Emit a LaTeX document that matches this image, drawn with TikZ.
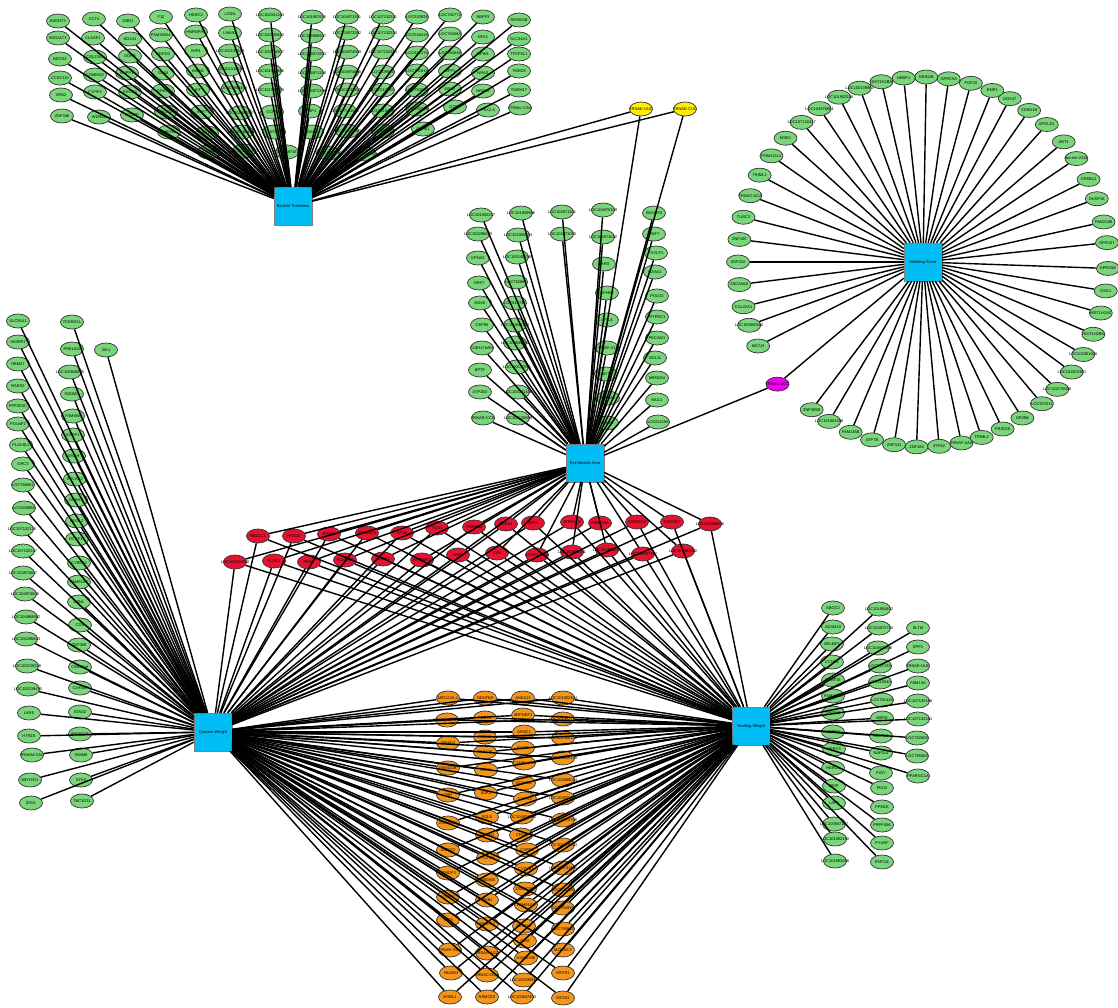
\documentclass[tikz,border=0pt]{standalone}
\usepackage{fontspec}
\setmainfont{Liberation Sans}
\usetikzlibrary{shapes.geometric,calc}
\definecolor{genegreen}{RGB}{122,214,122}
\definecolor{traitcyan}{RGB}{0,190,245}
\definecolor{sharedred}{RGB}{230,18,48}
\definecolor{sharedorange}{RGB}{245,150,25}
\definecolor{sharedyellow}{RGB}{255,238,0}
\definecolor{sharedmagenta}{RGB}{238,0,238}
\tikzset{
  gene/.style={ellipse, draw=black!80, line width=0.7pt, fill=genegreen,
    minimum width=23pt, minimum height=14pt, inner sep=0pt,
    font=\fontsize{4}{4}\selectfont},
  trait/.style={rectangle, draw=black!50, line width=0.4pt, fill=traitcyan,
    minimum size=38pt, inner sep=0pt, font=\fontsize{4}{4}\selectfont},
  link/.style={line width=1.4pt, black},
}
\newcommand{\lbl}[1]{\makebox[0pt]{#1}}
% gene lists: x/y/name (pixels, y down)
\newcommand{\bflist}{58/21/B3GNT2, 58/38/B4GALT3, 60/59/BECN2, 60/78/CCDC110, 61/95/XRN2, 62/116/ZNF346,
  94/19/CCT4, 93/38/CLASP1, 95/57/COL23A1, 95/75/COMMD2, 95/92/CYFIP1, 99/117/WDR66,
  128/21/DBN1, 130/39/DDX41, 130/56/DGKB, 127/73/ENPP1, 130/92/EXOC4, 132/115/FCGBP,
  161/17/F12, 161/35/FAM160A1, 163/54/GDPD4, 163/73/GJA8, 163/91/GRID1, 166/112/HCN1, 169/132/HEXA,
  196/15/HERC2, 196/32/HNRNPH1, 196/51/IMP4, 198/71/INSM1, 198/90/KIT, 202/112/KLF7, 207/133/KRT8, 209/152/LCOR,
  230/14/LGSN, 230/33/LMAN2, 230/51/LOC100139649, 230/69/LOC101010186, 233/88/LOC101903458, 240/113/LOC101904017, 242/132/LOC101904388, 244/151/LOC101905270,
  270/15/LOC100301163, 270/35/LOC100335882, 270/52/LOC100336907, 270/71/LOC101902886, 270/90/LOC101903075, 272/112/OCRL, 274/132/HYDIN, 287/152/LOC104971672,
  312/17/LOC101907876, 312/36/LOC104968937, 312/54/LOC104971933, 312/73/LOC104971158, 312/91/LOC104971398, 310/111/WWP1, 312/132/SMIM5,
  347/17/LOC104971391, 347/33/LOC104973282, 347/52/LOC104974569, 347/72/LOC104974858, 347/90/LOC107131305, 345/111/LOC107131862, 347/131/LOC107131907, 328/153/LOC107132010,
  383/17/LOC107132331, 383/33/LOC107132330, 383/52/LOC107132315, 383/72/LOC509916, 383/90/LOC512893, 383/111/LOC515418, 383/131/LOC520336, 365/154/LOC524236,
  417/17/LOC533928, 417/35/LOC540419, 417/53/LOC614176, 417/71/LOC781919, 417/90/LOC782085, 417/109/LOC782364, 423/129/GPR61,
  450/15/LOC782772, 450/34/LOC784564, 450/53/LOC784646, 450/71/MPP1, 450/89/MSX2, 455/107/OTOF,
  483/17/NBPF3, 483/37/NFX1, 483/54/NPW1, 483/73/NRAS, 483/91/NR2C2, 488/110/PKX2-4,
  519/20/RMND5B, 519/39/SLC34A1, 519/54/TFCP2L1, 519/71/TMED5, 519/90/TMEM17, 520/108/TRNAL-CAA}
\newcommand{\emlist}{481/215/LOC101902237, 478/234/LOC100296423, 478/258/KPNA2, 479/283/GRK7, 480/303/DDX6, 482/325/CEP95, 482/348/C19H17orf58, 480/370/BPTF, 480/392/ATP1B3, 483/418/TRNAR-CCG,
  521/213/LOC101905966, 518/235/LOC101905874, 517/257/LOC100140838, 516/282/LOC782861, 515/303/LOC616741, 515/325/LOC100848153, 515/343/LOC100849170, 517/367/LOC100137931, 518/392/LOC100131346, 518/418/LOC100125889,
  562/212/LOC104971101, 562/234/LOC104971030,
  603/210/LOC104975109, 603/237/LOC104971032, 604/264/RXRG, 607/293/SPHK2, 607/320/SPILA, 607/348/SNAP-A1, 606/374/SIDT1, 608/398/SHISA9, 607/423/SENP5,
  654/213/SMURF2, 654/234/RNF7, 656/253/PXYLP1, 655/272/RASA2, 657/296/POLG2, 657/317/PITPNC1, 657/338/PECAM1, 655/358/NOL11, 657/378/MIR3064, 657/400/MUL1, 658/422/LOC511106}
\newcommand{\mslist}{271/GRIN2B, 264/HEBP1, 257/HIST1H2BN, 250/LOC100139563, 243/LOC101902328, 236/LOC104976654, 229/LOC107132417, 222/MSR1, 215/POM121L2, 208/TRIML1, 201/TRNAC-ACA, 194/TUSC3, 187/ZNF165, 180/ZNF322, 173/ZSCAN16, 166/COL22A1, 160/LOC100850500, 153/MICU3,
  127/ZNF385B, 120.5/LOC101903456, 113/FAM135B, 106/ATP7B, 99/ZNF341, 92/ZNF184, 85/ZFP42, 78/TRNAF-AAA, 71.5/TRIML2, 64.5/PRSS16, 57.5/OR2B6, 50/LOC507011, 43.5/LOC102176088, 36.5/LOC101903380, 30/LOC101901826,
  23/HIST1H2BK, 16/HIST1H2AC, 9/GSG1, 2/GPRC5B, 354/GPR137, 347.5/FAM234B, 340/DUSP16, 333.5/CREBL2, 326/bta-mir-2318, 319.5/ABT1, 312/APOLD1, 305/CDKN1B, 298/DDX47, 292/EMP1, 285/FGF20, 278/GPRC5A}
\newcommand{\rdlist}{258/536/RB1CC1, 294/536/RGS20, 329/534/RPS20, 367/533/SDR16C5, 402/533/ST18, 437/528/TGS1, 474/527/TMEM68, 506/524/TCEA1, 533/523/XKR4, 572/522/ATP6V1H, 600/523/FAM150A, 637/522/SDR16C6, 672/522/CHCHD7, 710/524/LOC101908206,
  235/562/LOC100140450, 274/561/PLAG1, 309/562/PENK, 345/560/PCMTD1, 383/559/OPRK1, 422/560/NPBWR1, 458/555/MOS, 497/553/LYN, 537/555/LOC514048, 572/552/LOC104974181, 607/550/LOC104974257, 643/554/LOC101907707, 683/551/LOC101908392}
\newcommand{\orlist}{448/698/MIR124A-1, 447/720/LOC101907919, 448/743/IMPAD1, 448/768/FAM110B, 448/795/CRH, 448/823/ZSCAN5B, 448/850/ZNF572, 448/873/YTHDF3, 448/897/VCPIP1, 448/920/TTPA, 450/950/TRNAY-GUA, 451/973/NKAIN3, 450/997/MYBL1,
  485/698/NDUFB9, 485/718/PDE7A, 485/737/PREX2, 485/752/RNF139, 486/770/RRS1, 486/793/SGK3, 487/817/SQLE, 487/835/TATDN1, 488/858/TCF24, 487/880/TMEM65, 487/900/TRIB1, 487/924/TRMT12, 487/953/TRNAA-AGC, 487/975/TRNAC-GCA, 487/997/NSMCE2,
  523/698/ANXA13, 523/715/ARFGEF1, 524/732/ARMC1, 523/748/ASAP1, 524/763/C14H8orf34, 524/783/ADHFE1, 525/799/COPS5, 522/817/LOC104974806, 521/835/CPA6, 527/850/CSPP1, 526/869/CYP7B1, 525/889/DNAJC5B, 526/905/FAM91A1, 524/926/FER1L6, 525/941/GGH, 526/958/KIAA0196, 524/980/LOC100295816, 522/997/LOC100847403,
  563/698/LOC101902404, 563/719/LOC101902714, 563/738/LOC101906152, 563/758/LOC101909138, 563/780/LOC104969024, 563/798/LOC104972478, 563/820/LOC104975766, 563/845/LOC104976213, 563/868/LOC107131475, 563/890/LOC520336, 563/908/LOC784935, 563/929/LOC790616, 563/950/MCMDC2, 563/973/MTFR1, 563/998/MTSS1}
\newcommand{\cwlist}{18/321/SLC35A1, 18/342/SH3RF2, 18/364/RBM27, 18/386/RARS2, 18/406/PPP2R2C, 18/424/POU4F2, 21/445/PLAC8L1, 23/464/ORC3, 23/485/LOC786861, 24/508/LOC506988, 22/529/LOC107132176, 23/551/LOC107132247,
  23/573/LOC104974807, 25/594/LOC104974636, 26/617/LOC104968982, 26/639/LOC100296843, 27/666/LOC100139228, 28/689/LOC100139430, 29/713/LARS, 29/736/HTR1E, 32/755/TRNAM-CAU, 30/780/WDYHV1, 31/803/ZHX1,
  72/322/TCERG1L, 72/349/PRELID2, 70/372/LOC100848815, 72/394/GSDMC, 73/416/FAM89A, 73/435/ESRP1, 74/456/ENAH, 75/479/EFCAB2, 76/500/DNAH7, 77/521/DIS3L2, 77/539/DCAF17, 79/563/CYB5D2,
  79/582/FAM91A2, 79/602/DBNL, 80/625/CGA, 79/645/CEP350, 80/667/C5H12orf, 80/688/C1H5orf, 80/712/ATAD2, 80/734/ANKRD46, 81/755/SMIM8, 81/780/STK3, 82/801/TBC1D31,
  106/350/ZIK1}
\newcommand{\ywlist}{833/608/ABCG2, 833/627/ADAM10, 832/644/ARL6IP1, 832/662/CCNB2, 833/680/DCAF16, 833/696/FAM184B, 833/713/GPRIN3, 833/732/HERC3, 834/749/HERC5, 833/768/HERC6, 834/786/IBSP, 834/803/LAP3, 834/824/LOC100847142, 835/839/LOC101902190, 835/861/LOC101903088,
  879/609/LOC101904402, 879/628/LOC104972724, 878/648/LOC104972926, 880/666/LOC507133, 880/682/LOC515540, 882/700/LOC781428, 882/718/MEPE, 881/736/MMRN1, 881/753/NAP1L5, 881/773/PIGY, 882/788/PKD2, 882/807/PPM1K, 882/825/PRPF40A, 882/843/PYURF, 882/862/RNF111,
  918/628/SLTM, 918/647/SPP1, 918/666/TRNAE-UUC, 918/683/FAM13A, 918/701/LOC107132188, 918/719/LOC107132164, 917/738/LOC782693, 917/756/LOC785569, 918/776/PPARGC1A}

\begin{document}
\begin{tikzpicture}[x=1pt,y=-1pt]
  \useasboundingbox (0,0) rectangle (1118,1008);
  %Traits
  \node[trait] (bt) at (293,206) {\lbl{Backfat Thickness}};
  \node[trait] (ms) at (923,262) {\lbl{Marbling Score}};
  \node[trait] (em) at (585,463) {\lbl{Eye Muscle Area}};
  \node[trait] (cw) at (213,732) {\lbl{Carcass Weight}};
  \node[trait] (yw) at (751,726) {\lbl{Yearling Weight}};
  %Genes of one trait
  \foreach \x/\y/\t [count=\i] in \bflist
    \node[gene] (b\i) at (\x,\y) {\lbl{\t}};
  \foreach \x/\y/\t [count=\i] in \emlist
    \node[gene] (e\i) at (\x,\y) {\lbl{\t}};
  \foreach \a/\t [count=\i] in \mslist
    \node[gene] (m\i) at ($(ms)+(\a:185)$) {\lbl{\t}};
  \foreach \x/\y/\t [count=\i] in \cwlist
    \node[gene] (c\i) at (\x,\y) {\lbl{\t}};
  \foreach \x/\y/\t [count=\i] in \ywlist
    \node[gene] (y\i) at (\x,\y) {\lbl{\t}};
  %Shared genes
  \node[gene,fill=sharedyellow] (uuc) at (641,109) {\lbl{TRNAE-UUC}};
  \node[gene,fill=sharedyellow] (cuc) at (685,109) {\lbl{TRNAE-CUC}};
  \node[gene,fill=sharedmagenta] (ucc) at ($(ms)+(140:190)$) {\lbl{TRNAG-UCC}};
  \foreach \x/\y/\t [count=\i] in \rdlist
    \node[gene,fill=sharedred] (r\i) at (\x,\y) {\lbl{\t}};
  \foreach \x/\y/\t [count=\i] in \orlist
    \node[gene,fill=sharedorange] (o\i) at (\x,\y) {\lbl{\t}};
  %Links
  \foreach \x/\y/\t [count=\i] in \bflist
    \draw[link] (bt) -- (b\i);
  \foreach \x/\y/\t [count=\i] in \emlist
    \draw[link] (em) -- (e\i);
  \foreach \a/\t [count=\i] in \mslist
    \draw[link] (ms) -- (m\i);
  \foreach \x/\y/\t [count=\i] in \cwlist
    \draw[link] (cw) -- (c\i);
  \foreach \x/\y/\t [count=\i] in \ywlist
    \draw[link] (yw) -- (y\i);
  \foreach \s in {uuc,cuc}
    \draw[link] (bt) -- (\s) -- (em);
  \draw[link] (ms) -- (ucc) -- (em);
  \foreach \x/\y/\t [count=\i] in \rdlist {
    \draw[link] (em) -- (r\i);
    \draw[link] (cw) -- (r\i);
    \draw[link] (yw) -- (r\i);
  }
  \foreach \x/\y/\t [count=\i] in \orlist {
    \draw[link] (cw) -- (o\i);
    \draw[link] (yw) -- (o\i);
  }
\end{tikzpicture}
\end{document}
